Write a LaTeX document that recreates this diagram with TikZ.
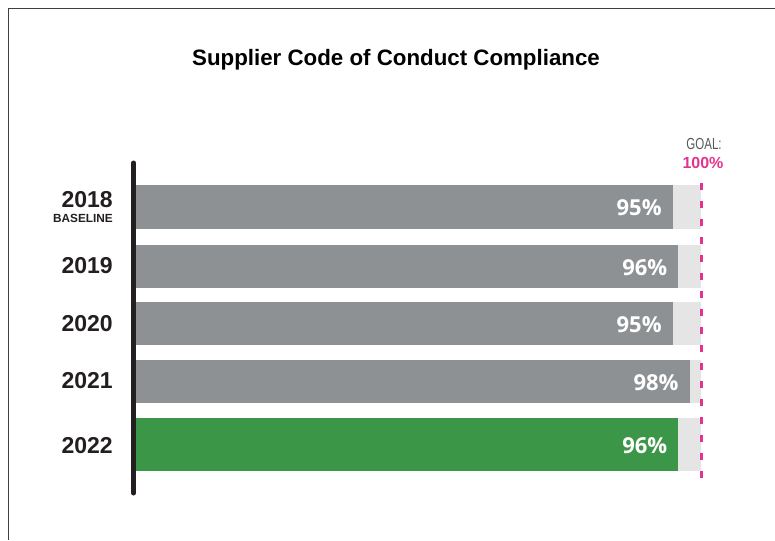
\documentclass[tikz,border=0pt]{standalone}
\usepackage{fontspec}
\setmainfont{Liberation Sans}
\newfontfamily\pctfont{Open Sans}
\usetikzlibrary{positioning}

\definecolor{bargray}{HTML}{8E9193}
\definecolor{trackgray}{HTML}{E4E5E4}
\definecolor{bargreen}{HTML}{3C9647}
\definecolor{goalpink}{HTML}{E2348F}
\definecolor{inkdark}{HTML}{231F20}
\definecolor{framegray}{HTML}{3F3F3F}
\definecolor{goalgray}{HTML}{58595B}

\tikzset{
  yearlabel/.style={anchor=east, inner sep=0pt, text=inkdark, font=\bfseries\fontsize{23}{25}\selectfont},
  pctlabel/.style={anchor=east, inner sep=0pt, text=white, font=\pctfont\bfseries\fontsize{22}{24}\selectfont},
  track/.style={fill=trackgray, draw=none},
  goalline/.style={goalpink, line width=3pt, dash pattern=on 7pt off 11pt}
}

\begin{document}
\begin{tikzpicture}[x=1pt, y=-1pt]
    \useasboundingbox (0,0) rectangle (775,540);
    % frame
    \draw[framegray, line width=1.8pt] (8.5,540) -- (8.5,8.5) -- (775,8.5);
    % title
    \node[text=black, font=\bfseries\fontsize{22.3}{25}\selectfont] (title) at (396,60)
        {Supplier Code of Conduct Compliance};
    % bars: year / top / bottom / value / colour
    \foreach \yr/\top/\bot/\val/\col in {2018/185/229/95/bargray, 2019/245/288/96/bargray,
        2020/302/345/95/bargray, 2021/360/403/98/bargray, 2022/418/471/96/bargreen} {
        \fill[track] (136,\top) rectangle (701,\bot);
        \fill[\col] (136,\top) rectangle ({136+5.65*\val},\bot);
        \node[pctlabel] (pct\yr) at ({136+5.65*\val-11},{(\top+\bot)/2+1}) {\val\%};
    }
    % year labels
    \node[yearlabel] (y2018) at (113,200) {2018};
    \node[anchor=north east, inner sep=0pt, text=inkdark, font=\bfseries\fontsize{11.8}{12}\selectfont]
        (base) at (113,214.5) {BASELINE};
    \node[yearlabel] (y2019) at (113,266) {2019};
    \node[yearlabel] (y2020) at (113,323.5) {2020};
    \node[yearlabel] (y2021) at (113,381) {2021};
    \node[yearlabel] (y2022) at (113,446) {2022};
    % axis
    \coordinate (axtop) at (133.5,163);
    \coordinate (axbot) at (133.5,493);
    \draw[inkdark, line width=5pt, line cap=round] (axtop) -- (axbot);
    % goal
    \coordinate (goaltop) at (701,183);
    \coordinate (goalbot) at (701,480);
    \draw[goalline] (goaltop) -- (goalbot);
    \node[text=goalgray, inner sep=0pt, font=\fontsize{16}{18}\selectfont] (goal) at (704,144)
        {\scalebox{0.72}[1]{GOAL:}};
    \node[text=goalpink, inner sep=0pt, font=\bfseries\fontsize{16}{18}\selectfont] (hundred) at (703,163)
        {100\%};
\end{tikzpicture}
\end{document}
